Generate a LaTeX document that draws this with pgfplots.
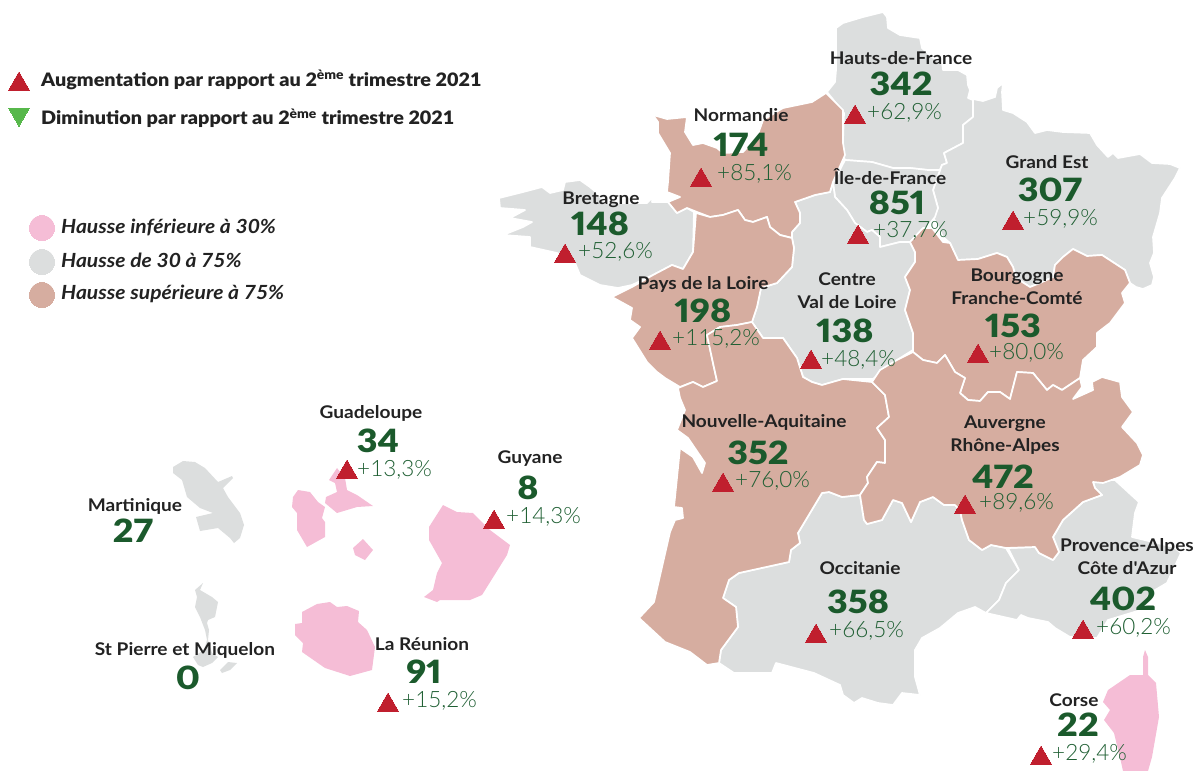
\documentclass[border=0pt]{standalone}
\usepackage{fontspec}
\usepackage{pgfplots}
\pgfplotsset{compat=1.18}
\setmainfont{Lato}
\newfontfamily\nameF[FakeStretch=1.09]{Lato Bold}
\newfontfamily\numF[FakeStretch=1.12,Numbers=Proportional]{Lato Black}
\newfontfamily\pctF{Lato Light}
\newfontfamily\legF[FakeStretch=1.07]{Lato Black}
\newfontfamily\itF[FakeStretch=1.08]{Lato Bold Italic}
\definecolor{cpink}{HTML}{F5BDD6}
\definecolor{cgray}{HTML}{DCDEDE}
\definecolor{cbrown}{HTML}{D6ADA0}
\definecolor{cred}{HTML}{C01F2E}
\definecolor{cgreen}{HTML}{57B84B}
\definecolor{cnum}{HTML}{1B5A2C}
\definecolor{cpct}{HTML}{1F5F33}
\definecolor{ctxt}{HTML}{222222}
\pgfplotsset{
  reg/.style={fill=#1,draw=white,line width=1.7pt,line join=round,no markers},
  isl/.style={fill=#1,draw=none,no markers},
}
\newcommand{\nm}[3]{\node[align=center,font=\nameF\fontsize{17.5}{23}\selectfont,text=ctxt,inner sep=0] at (axis cs:#1,#2) {#3};}
\newcommand{\nb}[3]{\node[font=\numF\fontsize{32}{32}\selectfont,text=cnum,inner sep=0] at (axis cs:#1,#2) {#3};}
\newcommand{\pc}[3]{\node[anchor=west,font=\pctF\fontsize{22.5}{22}\selectfont,text=cpct,inner sep=0] at (axis cs:#1,#2) {#3};}
\begin{document}
\begin{tikzpicture}[x=1pt,y=1pt]
\path[use as bounding box] (0,0) rectangle (1203pt,771pt);
\begin{axis}[at={(0,0)},anchor=south west,hide axis,scale only axis,width=1203pt,height=771pt,
  xmin=0,xmax=1203,ymin=0,ymax=771,y dir=reverse]
% Hauts-de-France
\addplot[reg=cgray] coordinates {(836,28)(843,23)(863,17)(883,12)(887,17)(888,28)(900,35)(913,37)(920,38)(922,48)(932,57)(942,63)(943,70)(958,70)(967,75)(968,85)(970,90)(968,98)(973,100)(973,117)(963,125)(963,143)(944,153)(947,163)(942,165)(940,170)(928,170)(910,168)(893,168)(872,162)(845,160)(843,155)(843,140)(844,113)(827,92)(835,82)(836,70)} --cycle;
% Grand Est
\addplot[reg=cgray] coordinates {(973,99)(983,101)(995,97)(997,88)(1003,83)(1002,92)(1003,110)(1013,113)(1027,122)(1035,133)(1047,130)(1063,132)(1090,133)(1097,145)(1108,157)(1113,153)(1118,158)(1140,154)(1152,163)(1170,164)(1180,168)(1175,178)(1162,198)(1160,213)(1153,237)(1154,253)(1150,263)(1154,277)(1152,285)(1143,289)(1136,287)(1130,283)(1125,270)(1102,255)(1087,256)(1073,249)(1063,257)(1055,265)(1053,277)(1040,283)(1030,287)(1016,278)(1013,267)(1007,257)(997,253)(978,259)(958,260)(950,243)(943,237)(933,217)(938,208)(933,190)(940,170)(942,165)(947,163)(944,153)(963,143)(963,125)(973,117)} --cycle;
% Ile-de-France
\addplot[reg=cgray] coordinates {(845,160)(872,162)(893,168)(910,168)(928,170)(940,170)(933,190)(938,208)(935,217)(927,227)(910,242)(900,242)(880,247)(880,237)(872,230)(867,232)(855,223)(847,210)(835,197)(833,183)} --cycle;
% Centre
\addplot[reg=cgray] coordinates {(795,202)(815,195)(830,192)(833,183)(835,197)(847,210)(855,223)(867,232)(872,230)(880,237)(880,247)(900,242)(910,242)(915,252)(915,262)(905,277)(910,290)(905,310)(913,333)(913,350)(897,360)(873,379)(843,379)(822,385)(812,382)(803,377)(797,358)(783,338)(763,338)(752,322)(757,307)(761,288)(777,283)(792,267)(794,248)(792,238)(792,232)(800,223)(800,213)} --cycle;
% Bretagne
\addplot[reg=cgray] coordinates {(499,198)(523,192)(542,187)(550,193)(563,190)(565,182)(580,180)(590,187)(597,193)(605,203)(647,203)(653,197)(652,202)(668,202)(677,213)(687,208)(694,212)(693,252)(683,269)(672,265)(653,275)(632,285)(618,288)(600,285)(580,275)(575,263)(557,253)(530,247)(530,237)(503,235)(523,227)(532,222)(510,218)(525,210)(500,208)} --cycle;
% Occitanie
\addplot[reg=cgray] coordinates {(822,493)(829,492)(842,497)(860,495)(864,520)(867,524)(882,520)(893,500)(902,503)(911,522)(920,502)(933,497)(944,505)(955,505)(960,510)(962,520)(969,540)(982,550)(991,545)(1006,548)(1019,570)(1006,583)(999,600)(986,613)(975,607)(958,613)(940,628)(922,638)(915,650)(915,677)(920,695)(902,693)(893,705)(878,703)(862,698)(854,703)(843,695)(840,685)(814,673)(776,663)(772,673)(734,673)(719,663)(721,650)(738,627)(736,607)(723,598)(729,580)(739,573)(789,562)(791,550)(800,543)(798,533)} --cycle;
% PACA
\addplot[reg=cgray] coordinates {(1008,548)(1035,547)(1039,553)(1053,560)(1059,552)(1053,537)(1063,520)(1083,502)(1102,495)(1095,488)(1093,482)(1097,480)(1115,480)(1139,502)(1135,513)(1132,537)(1174,547)(1181,553)(1167,583)(1150,593)(1141,610)(1108,620)(1097,638)(1070,637)(1055,628)(1048,622)(1028,618)(1021,615)(1017,620)(986,613)(999,600)(1006,583)(1019,570)} --cycle;
% Normandie
\addplot[reg=cbrown] coordinates {(653,115)(667,119)(687,117)(685,132)(693,145)(703,143)(717,148)(723,153)(743,152)(757,137)(763,120)(783,108)(812,102)(826,93)(843,110)(843,143)(845,155)(833,182)(830,192)(815,195)(795,202)(800,213)(800,223)(792,232)(792,238)(780,235)(770,227)(767,217)(753,222)(745,220)(738,210)(723,215)(710,217)(697,212)(687,208)(677,213)(668,202)(680,197)(667,192)(668,182)(670,153)(658,133)(658,122)} --cycle;
% Pays de la Loire
\addplot[reg=cbrown] coordinates {(696,213)(710,217)(723,215)(738,210)(745,220)(753,222)(767,217)(770,227)(780,235)(792,238)(794,248)(792,267)(777,283)(761,288)(757,307)(752,322)(737,325)(720,327)(707,335)(713,363)(717,381)(703,387)(693,382)(680,387)(665,378)(657,372)(647,362)(632,338)(640,327)(630,320)(632,308)(612,297)(632,287)(653,275)(672,265)(683,269)(693,252)} --cycle;
% Bourgogne-Franche-Comte
\addplot[reg=cbrown] coordinates {(910,242)(923,228)(932,228)(943,242)(950,243)(958,260)(978,259)(997,253)(1007,257)(1013,267)(1016,278)(1030,287)(1040,283)(1053,277)(1055,265)(1063,257)(1073,249)(1087,256)(1102,255)(1125,270)(1130,283)(1122,293)(1125,303)(1110,323)(1097,333)(1097,347)(1083,360)(1080,378)(1062,390)(1053,385)(1047,390)(1033,373)(1017,372)(1010,399)(1000,392)(988,392)(980,401)(968,400)(960,393)(965,378)(955,372)(945,355)(937,363)(923,360)(913,352)(913,333)(905,310)(910,290)(905,277)(915,262)(915,252)} --cycle;
% Nouvelle-Aquitaine
\addplot[reg=cbrown] coordinates {(678,388)(693,382)(703,387)(717,381)(713,363)(707,335)(720,327)(737,325)(752,322)(763,338)(783,338)(797,358)(803,377)(812,382)(822,385)(843,379)(872,382)(885,395)(889,417)(877,428)(885,440)(885,463)(877,462)(867,477)(868,483)(860,495)(842,497)(829,492)(822,493)(798,533)(800,543)(791,550)(789,562)(739,573)(729,580)(723,598)(736,607)(738,627)(721,650)(719,663)(707,665)(690,652)(665,642)(639,618)(654,602)(670,532)(675,520)(683,518)(682,508)(674,507)(680,448)(693,457)(702,473)(705,463)(688,438)(677,430)(685,410)(680,398)} --cycle;
% Auvergne-Rhone-Alpes
\addplot[reg=cbrown] coordinates {(872,382)(880,370)(897,360)(913,352)(923,360)(937,363)(945,355)(955,372)(965,378)(960,393)(968,400)(980,401)(988,392)(1000,392)(1010,399)(1017,372)(1033,373)(1047,390)(1053,385)(1062,390)(1080,378)(1082,387)(1073,399)(1093,390)(1092,382)(1102,377)(1120,382)(1122,397)(1133,412)(1122,427)(1137,443)(1143,455)(1140,465)(1120,477)(1103,483)(1093,482)(1095,488)(1102,495)(1083,502)(1063,520)(1053,537)(1059,552)(1053,560)(1039,553)(1035,547)(1006,548)(991,545)(982,550)(969,540)(962,520)(960,510)(955,505)(944,505)(933,497)(920,502)(911,522)(902,503)(893,500)(882,520)(867,524)(864,520)(860,495)(868,483)(867,477)(877,462)(885,463)(885,440)(877,428)(889,417)(885,395)} --cycle;
% Corse
\addplot[isl=cpink] coordinates {(1145,650)(1148,657)(1148,675)(1156,683)(1159,717)(1152,757)(1148,771)(1123,771)(1121,762)(1114,733)(1104,720)(1110,710)(1103,702)(1108,690)(1130,675)(1143,675)(1143,657)} --cycle;
% Martinique
\addplot[isl=cgray] coordinates {(173,467)(183,461)(195,462)(205,468)(218,482)(232,476)(233,478)(223,488)(228,497)(240,513)(244,525)(240,538)(234,543)(230,538)(218,528)(200,531)(196,517)(213,513)(200,508)(187,497)(182,480)(173,473)} --cycle;
% Guadeloupe
\addplot[isl=cpink] coordinates {(293,497)(298,490)(310,492)(318,502)(325,507)(322,518)(325,522)(325,537)(307,547)(297,530)(297,513)(292,507)} --cycle;
\addplot[isl=cpink] coordinates {(329,480)(337,468)(345,478)(347,490)(357,495)(373,506)(357,507)(337,513)(325,503)(326,497)(337,492)(335,483)} --cycle;
\addplot[isl=cpink] coordinates {(363,539)(373,550)(365,560)(355,555)(353,548)} --cycle;
% Guyane
\addplot[isl=cpink] coordinates {(443,505)(457,512)(473,513)(490,530)(510,545)(507,555)(482,595)(470,600)(440,600)(437,602)(424,597)(433,590)(437,573)(442,563)(429,540)(429,527)} --cycle;
% La Reunion
\addplot[isl=cpink] coordinates {(302,612)(317,604)(330,602)(337,607)(347,606)(359,611)(358,622)(367,630)(375,647)(372,670)(350,676)(325,668)(302,652)(303,643)(295,635)(295,624)(302,623)} --cycle;
% St Pierre et Miquelon
\addplot[isl=cgray] coordinates {(203,583)(195,590)(197,597)(195,607)(200,617)(205,630)(207,640)(204,650)(193,657)(198,665)(203,667)(212,663)(218,657)(212,653)(208,640)(209,630)(207,623)(208,620)(215,617)(218,602)(212,597)(200,590)} --cycle;
\addplot[isl=cgray] coordinates {(228,662)(237,663)(230,670)(222,673)(220,670)} --cycle;
% triangles
\addplot[only marks,mark=triangle*,mark size=12pt,mark options={fill=cred,draw=cred,line width=0pt}] coordinates {(855,117)(701,180)(858,237)(1013,223)(565,256)(660,343)(811,362)(978,356)(723,485)(965,507)(816,636)(1083,632)(1041,758)(347,472)(494,522)(388,705)(19,84)};
\addplot[only marks,mark=triangle*,mark size=12pt,mark options={fill=cgreen,draw=cgreen,line width=0pt,rotate=180}] coordinates {(19,114)};
% colour legend
\addplot[only marks,mark=*,mark size=12.7pt,mark options={fill=cpink,draw=cpink,line width=0pt}] coordinates {(42,228)};
\addplot[only marks,mark=*,mark size=12.7pt,mark options={fill=cgray,draw=cgray,line width=0pt}] coordinates {(42,262)};
\addplot[only marks,mark=*,mark size=12.7pt,mark options={fill=cbrown,draw=cbrown,line width=0pt}] coordinates {(42,295)};
% texts
\nm{901}{58}{Hauts-de-France}\nb{901}{84}{342}\pc{867}{113}{+62,9\%}
\nm{741}{115}{Normandie}\nb{741}{145}{174}\pc{717}{174}{+85,1\%}
\nm{890}{177}{Île-de-France}\nb{897}{203}{851}\pc{873}{231}{+37,7\%}
\nm{1047}{162}{Grand Est}\nb{1050}{190}{307}\pc{1023}{219}{+59,9\%}
\nm{601}{200}{Bretagne}\nb{600}{224}{148}\pc{578}{252}{+52,6\%}
\nm{703}{284}{Pays de la Loire}\nb{703}{311}{198}\pc{672}{339}{+115,2\%}
\nm{847}{291}{Centre\\Val de Loire}\nb{845}{331}{138}\pc{821}{360}{+48,4\%}
\nm{1017}{287}{Bourgogne\\Franche-Comté}\nb{1013}{326}{153}\pc{989}{353}{+80,0\%}
\nm{764}{422}{Nouvelle-Aquitaine}\nb{758}{453}{352}\pc{735}{481}{+76,0\%}
\nm{1005}{435}{Auvergne\\Rhône-Alpes}\nb{1003}{477}{472}\pc{979}{503}{+89,6\%}
\nm{860}{568}{Occitanie}\nb{858}{602}{358}\pc{829}{631}{+66,5\%}
\nm{1127}{557}{Provence-Alpes\\Côte d'Azur}\nb{1123}{599}{402}\pc{1096}{628}{+60,2\%}
\nm{1074}{700}{Corse}\nb{1078}{725}{22}\pc{1052}{754}{+29,4\%}
\nm{371}{413}{Guadeloupe}\nb{378}{441}{34}\pc{357}{470}{+13,3\%}
\nm{530}{459}{Guyane}\nb{528}{488}{8}\pc{506}{517}{+14,3\%}
\nm{135}{506}{Martinique}\nb{133}{531}{27}
\nm{185}{650}{St Pierre et Miquelon}\nb{188}{678}{0}
\nm{422}{644}{La Réunion}\nb{424}{672}{91}\pc{402}{701}{+15,2\%}
% legend text
\node[anchor=west,inner sep=0,text=ctxt,font=\legF\fontsize{18.5}{20}\selectfont] at (axis cs:41,80) {Augmentation par rapport au 2\textsuperscript{ème} trimestre 2021};
\node[anchor=west,inner sep=0,text=ctxt,font=\legF\fontsize{18.5}{20}\selectfont] at (axis cs:41,118) {Diminution par rapport au 2\textsuperscript{ème} trimestre 2021};
\node[anchor=west,inner sep=0,text=ctxt,font=\itF\fontsize{19.5}{20}\selectfont] at (axis cs:61,227) {Hausse inférieure à 30\%};
\node[anchor=west,inner sep=0,text=ctxt,font=\itF\fontsize{19.5}{20}\selectfont] at (axis cs:61,260) {Hausse de 30 à 75\%};
\node[anchor=west,inner sep=0,text=ctxt,font=\itF\fontsize{19.5}{20}\selectfont] at (axis cs:61,294) {Hausse supérieure à 75\%};
\end{axis}
\end{tikzpicture}
\end{document}
